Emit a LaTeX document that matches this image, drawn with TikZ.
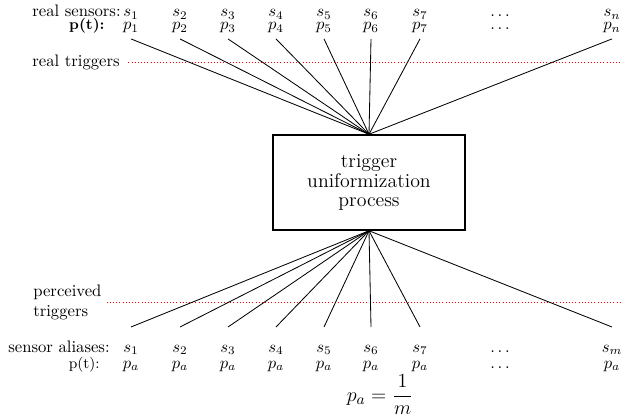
\documentclass[tikz,border=0pt]{standalone}
\begin{document}
\begin{tikzpicture}[x=0.6pt,y=-0.6pt,
  lbl/.style={inner sep=0pt,anchor=base east},
  sens/.style={anchor=base,inner xsep=1pt,inner ysep=0.5pt},
  top/.style={sens,outer ysep=3.2pt},
  alias/.style={sens,outer ysep=10.2pt},
  conn/.style={line width=0.5pt},
  trig/.style={red,line width=0.6pt,dash pattern=on 0.6pt off 1.3pt},
  procbox/.style={draw,line width=0.9pt,minimum width=115pt,minimum height=57pt,align=center,
    font=\fontsize{11.9pt}{11.8pt}\selectfont}]
\useasboundingbox (0,0) rectangle (621,417);
\coordinate (rightedge) at (621,0);
% left labels
\node[lbl] (rs) at (121,16.5) {real sensors:};
\node[lbl,font=\small\bfseries] (pt) at (105,29.5) {p(t):};
\node[inner sep=0pt,anchor=east] (rt) at (120,62) {real triggers};
\node[inner sep=0pt,anchor=west,align=left] (pc) at (33,302) {perceived\\triggers};
\node[lbl] (sa) at (110,352) {sensor aliases:};
\node[lbl,font=\small] (pt2) at (100,368) {p(t):};
% dotted trigger lines
\draw[trig] ([xshift=5pt]rt.east) -- (rt.east -| rightedge);
\draw[trig] ([xshift=3pt]pc.east) -- (pc.east -| rightedge);
% process box
\node[procbox] (box) at (369,182.5) {trigger\\uniformization\\process};
% real sensors
\foreach \i/\x in {1/131,2/180,3/228,4/276,5/324,6/371,7/420}{
  \node[sens] (s\i) at (\x,16.5) {$s_{\i}$};
  \node[top] (p\i) at (\x,29.5) {$p_{\i}$};
}
\node[sens] (sd) at (500,16.5) {$\dots$};
\node[sens] (pd) at (500,29.5) {$\dots$};
\node[sens] (sn) at (612,16.5) {$s_n$};
\node[top] (pn) at (612,29.5) {$p_n$};
\foreach \i in {1,...,7,n}{
  \draw[conn] (p\i.south) -- (box.north);
}
% sensor aliases
\foreach \i/\x in {1/131,2/180,3/228,4/276,5/324,6/371,7/420}{
  \node[alias] (a\i) at (\x,352) {$s_{\i}$};
  \node[sens] (q\i) at (\x,368) {$p_a$};
}
\node[sens] (ad) at (500,352) {$\dots$};
\node[sens] (qd) at (500,368) {$\dots$};
\node[alias] (am) at (612,352) {$s_m$};
\node[sens] (qm) at (612,368) {$p_a$};
\foreach \i in {1,...,7,m}{
  \draw[conn] (box.south) -- (a\i.north);
}
% formula
\node[anchor=base,font=\fontsize{12.8pt}{15pt}\selectfont] (fm) at (380,401) {$\displaystyle p_a = \frac{1}{m}$};
\end{tikzpicture}
\end{document}
